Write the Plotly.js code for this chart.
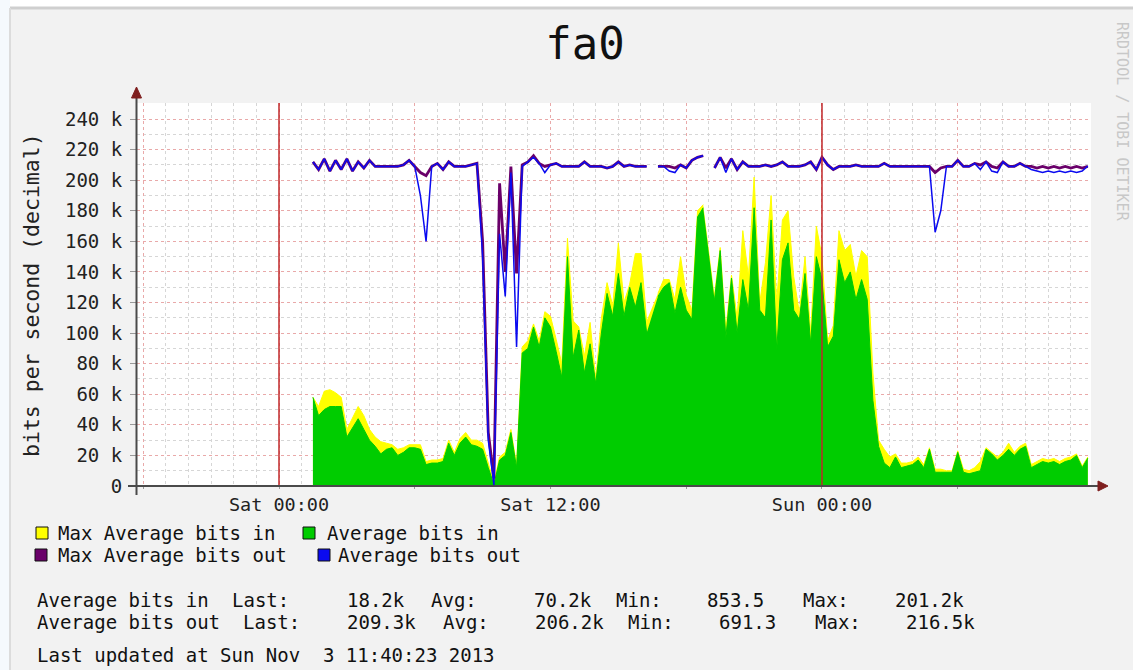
<!DOCTYPE html>
<html><head><meta charset="utf-8">
<script src="https://cdn.plot.ly/plotly-3.0.1.min.js"></script>
<style>html,body{margin:0;padding:0;background:#f2f2f2;}#chart{width:1133px;height:670px;}</style>
</head><body><div id="chart"></div>
<script>
// ---------- DATA (values in kbit/s, 15-minute samples) ----------
const startTime = Date.UTC(2013, 10, 2, 1, 30); // Sat 2 Nov 2013 01:30
const stepMinutes = 15;

const maxAvgIn = [58,52,62,63,61,58,37,45,52,46, 37,32,29,28,27,24,25,27,27,27,
 16,17,17,18,30,22,31,35,30,30, 28,15,2,19,22,37,14,91,95,106,
 95,114,111,96,80,162,108,104,85,107, 70,110,133,118,159,120,132,152,152,108,
 null,126,135,135,122,150,125,115,180,184, null,125,156,102,138,110,167,137,202,120,
 146,190,120,174,180,137,113,150,100,170, 150,95,105,167,154,158,137,154,150,74,
 30,24,19,21,15,15,16,19,14,25, 11,11,10,10,23,11,10,12,16,25,
 22,19,22,28,22,26,28,14,16,18, 17,18,16,18,19,21,13,19];

const avgIn = [58,46,50,52,52,52,32,38,44,37, 30,26,21,24,25,20,22,25,25,24,
 14,15,15,16,28,20,28,32,27,26, 24,12,0.9,17,20,35,12,87,90,104,
 91,110,104,88,71,150,84,102,74,93, 67,100,126,111,139,111,130,117,133,100,
 null,124,130,133,113,130,115,109,176,182, null,122,154,97,136,100,135,115,182,115,
 110,174,89,148,159,115,109,139,93,150, 135,91,98,148,133,140,122,135,122,56,
 26,15,12,19,12,13,14,17,12,24, 9,9,9,9,22,9,8,9,10,24,
 21,17,20,24,20,24,26,12,14,16, 15,16,14,16,17,20,12,18.2];

const maxAvgOut = [212,207,214,206,213,207,214,206,212,208, 213,209,209,209,209,209,210,213,209,205,
 203,209,211,207,212,209,209,209,210,211, 160,35,5,198,140,209,139,210,212,216,
 211,209,210,211,209,209,209,209,212,209, 209,209,208,209,212,209,210,209,209,209,
 null,209,209,209,208,210,208,213,215,216, null,208,215,208,214,207,212,209,209,209,
 210,209,210,212,209,209,209,210,212,207, 215,210,207,209,209,209,210,209,209,209,
 209,211,209,209,209,209,209,209,209,209, 205,208,209,209,213,209,209,211,210,212,
 209,208,212,209,209,211,209,209,208,209, 208,209,208,209,208,209,208,209];

const avgOut = [212,207,214,206,213,207,214,206,212,208, 213,209,209,209,209,209,210,213,209,190,
 160,209,211,207,212,209,209,209,210,211, 150,30,0.7,165,124,205,91,209,212,215,
 211,205,210,211,209,209,209,209,212,209, 209,209,208,209,212,209,210,209,209,209,
 null,209,209,206,205,210,208,213,215,216, null,208,215,205,214,207,212,209,209,209,
 210,209,210,212,209,209,209,210,212,207, 215,210,207,209,209,209,210,209,209,209,
 209,211,209,209,209,209,209,209,209,209, 166,180,209,209,213,209,209,211,207,212,
 206,205,212,209,209,211,209,207,206,205, 206,205,206,205,206,205,206,209.3];

const seriesNames = ['Max Average bits in','Average bits in','Max Average bits out','Average bits out'];
const seriesColors = ['#ffff00','#00cc00','#6a006a','#0a0af0'];
const yTickValsK = [0,20,40,60,80,100,120,140,160,180,200,220,240];
const yTickText = ['0','20 k','40 k','60 k','80 k','100 k','120 k','140 k','160 k','180 k','200 k','220 k','240 k'];
const xTickTimes = ['2013-11-02 00:00','2013-11-02 12:00','2013-11-03 00:00'];
const xTickText = ['Sat 00:00','Sat 12:00','Sun 00:00'];
const dayMarkers = ['2013-11-02 00:00','2013-11-03 00:00'];
const statLabels = ['Last:','Avg:','Min:','Max:'];
const statsIn = ['18.2k','70.2k','853.5','201.2k'];
const statsOut = ['209.3k','206.2k','691.3','216.5k'];
const lastUpdated = 'Last updated at Sun Nov  3 11:40:23 2013';
const chartTitle = 'fa0';
const yTitle = 'bits per second (decimal)';
const watermark = 'RRDTOOL / TOBI OETIKER';

// ---------- BUILD ----------
function fmt(ms){ return new Date(ms).toISOString().slice(0,16).replace('T',' '); }
const times = avgIn.map((_, i) => fmt(startTime + i*stepMinutes*60000));
const k = a => a.map(v => v === null ? null : v*1000);

const W = 1133, H = 670;
const L = 137, R = 1091, T = 103, B = 486;
const P = px => (px - L)/(R - L);
const Q = py => (B - py)/(B - T);
const mono = 'DejaVu Sans Mono, monospace';
const nb = s => s.replace(/ /g, '\u00a0');
const txtSize = 19;

const traces = [
  {x: times, y: k(maxAvgIn), name: seriesNames[0], type:'scatter', mode:'lines', fill:'tozeroy',
   fillcolor: seriesColors[0], line:{color: seriesColors[0], width:1}, connectgaps:false, hoverinfo:'skip'},
  {x: times, y: k(avgIn), name: seriesNames[1], type:'scatter', mode:'lines', fill:'tozeroy',
   fillcolor: seriesColors[1], line:{color: seriesColors[1], width:1}, connectgaps:false, hoverinfo:'skip'},
  {x: times, y: k(maxAvgOut), name: seriesNames[2], type:'scatter', mode:'lines',
   line:{color: seriesColors[2], width:2.8}, connectgaps:false, hoverinfo:'skip'},
  {x: times, y: k(avgOut), name: seriesNames[3], type:'scatter', mode:'lines',
   line:{color: seriesColors[3], width:1.5}, connectgaps:false, hoverinfo:'skip'}
];

// grid positions
const xRange = ['2013-11-01 17:43:26','2013-11-03 11:53:24'];
const t0 = Date.UTC(2013,10,1,18,0);
const hourly = [], sixHourly = [], sixText = [];
for (let h = 0; h <= 42; h++) {
  const s = fmt(t0 + h*3600000);
  hourly.push(s);
  if (h % 6 === 0) {
    sixHourly.push(s);
    const idx = xTickTimes.indexOf(s);
    sixText.push(idx >= 0 ? xTickText[idx] : '');
  }
}
const yMinor = [];
for (let v = 10; v <= 250; v += 20) yMinor.push(v*1000);

const shapes = [];
const annotations = [];
// page frame
shapes.push({type:'rect', xref:'paper', yref:'paper', x0:P(0), x1:P(W), y0:Q(0), y1:Q(7), fillcolor:'#ffffff', line:{width:0}, layer:'below'});
shapes.push({type:'rect', xref:'paper', yref:'paper', x0:P(0), x1:P(10), y0:Q(0), y1:Q(H), fillcolor:'#f5f9fd', line:{width:0}, layer:'below'});
shapes.push({type:'line', xref:'paper', yref:'paper', x0:P(10), x1:P(W), y0:Q(8), y1:Q(8), line:{color:'#cfcfcf', width:3}});
shapes.push({type:'line', xref:'paper', yref:'paper', x0:P(10), x1:P(10), y0:Q(8), y1:Q(H), line:{color:'#dcdcdc', width:2}});
// day markers
dayMarkers.forEach(d => shapes.push({type:'line', xref:'x', yref:'paper', x0:d, x1:d, y0:0, y1:1,
  line:{color:'#c0282a', width:1.5}, layer:'above'}));
// axis lines and arrows
shapes.push({type:'line', xref:'paper', yref:'paper', x0:P(128), x1:P(1099), y0:0, y1:0, line:{color:'#4a4a4a', width:2}});
shapes.push({type:'line', xref:'paper', yref:'paper', x0:P(136.5), x1:P(136.5), y0:Q(495), y1:Q(95), line:{color:'#4a4a4a', width:2}});
shapes.push({type:'path', xref:'paper', yref:'paper', fillcolor:'#7f1f1f', line:{color:'#7f1f1f', width:1},
  path:`M ${P(1108)} ${Q(486)} L ${P(1098)} ${Q(481)} L ${P(1098)} ${Q(491)} Z`});
shapes.push({type:'path', xref:'paper', yref:'paper', fillcolor:'#7f1f1f', line:{color:'#7f1f1f', width:1},
  path:`M ${P(136.5)} ${Q(87)} L ${P(131.5)} ${Q(98)} L ${P(141.5)} ${Q(98)} Z`});

// y title
annotations.push({text: yTitle, xref:'paper', yref:'paper', x:P(31), y:Q(295), textangle:-90,
  showarrow:false, xanchor:'center', yanchor:'middle', font:{family:mono, size:21.5, color:'#222'}});
// watermark
annotations.push({text: watermark, xref:'paper', yref:'paper', x:P(1122), y:Q(122), textangle:90,
  showarrow:false, xanchor:'center', yanchor:'middle', borderpad:0, font:{family:mono, size:15, color:'#c8c8c8'}});

// legend
const legendPos = [[36,533],[303,533],[35,555],[318,555]];
const legendText = [58,327,58,338];
seriesNames.forEach((n,i) => {
  const [sx, sy] = legendPos[i];
  shapes.push({type:'rect', xref:'paper', yref:'paper', x0:P(sx), x1:P(sx+12), y0:Q(sy-6), y1:Q(sy+6),
    fillcolor: seriesColors[i], line:{color:'#111', width:1}});
  annotations.push({text: nb(n), xref:'paper', yref:'paper', x:P(legendText[i]-2), y:Q(sy), showarrow:false,
    xanchor:'left', yanchor:'middle', font:{family:mono, size:txtSize, color:'#111'}});
});

// statistics
const statRows = [
  {name:'Average bits in', vals: statsIn, y:600, pos:[37,232,347,431,534,616,707,803,895]},
  {name:'Average bits out', vals: statsOut, y:622, pos:[37,243,347,443,535,628,719,815,906]}
];
statRows.forEach(r => {
  const tokens = [r.name];
  statLabels.forEach((l,i) => { tokens.push(l); tokens.push(r.vals[i]); });
  tokens.forEach((tk,i) => annotations.push({text: nb(tk), xref:'paper', yref:'paper', x:P(r.pos[i]-2), y:Q(r.y),
    showarrow:false, xanchor:'left', yanchor:'middle', font:{family:mono, size:txtSize, color:'#111'}}));
});
annotations.push({text: nb(lastUpdated), xref:'paper', yref:'paper', x:P(35), y:Q(655), showarrow:false,
  xanchor:'left', yanchor:'middle', font:{family:mono, size:txtSize, color:'#111'}});

const layout = {
  width: W, height: H,
  margin: {l:L, r:W-R, t:T, b:H-B, pad:0},
  paper_bgcolor:'#f2f2f2', plot_bgcolor:'#ffffff',
  showlegend:false,
  font:{family:mono, color:'#222'},
  title:{text: chartTitle, xref:'container', yref:'container', x:585/W, y:1-44/H, xanchor:'center', yanchor:'middle',
    font:{family:mono, size:44, color:'#111'}},
  xaxis:{type:'date', range:xRange, tickmode:'array', tickvals:sixHourly, ticktext:sixText,
    showgrid:true, gridcolor:'#e9a9a9', griddash:'dot', gridwidth:1,
    ticks:'outside', ticklen:2, tickcolor:'#999', tickfont:{family:mono, size:18.5, color:'#222'},
    showline:false, zeroline:false, fixedrange:true,
    minor:{tickmode:'array', tickvals:hourly, showgrid:true, gridcolor:'#d6d6d6', griddash:'dot', gridwidth:1, ticks:''}},
  yaxis:{range:[0,250500], tickmode:'array', tickvals:yTickValsK.map(v=>v*1000), ticktext:yTickText,
    showgrid:true, gridcolor:'#e9a9a9', griddash:'dot', gridwidth:1,
    ticks:'outside', ticklen:6, tickcolor:'#999', ticklabelstandoff:4, tickfont:{family:mono, size:19, color:'#222'},
    showline:false, zeroline:false, fixedrange:true,
    minor:{tickmode:'array', tickvals:yMinor, showgrid:true, gridcolor:'#d6d6d6', griddash:'dot', gridwidth:1, ticks:''}},
  shapes, annotations
};
Plotly.newPlot('chart', traces, layout, {staticPlot:true, displayModeBar:false});
</script></body></html>
